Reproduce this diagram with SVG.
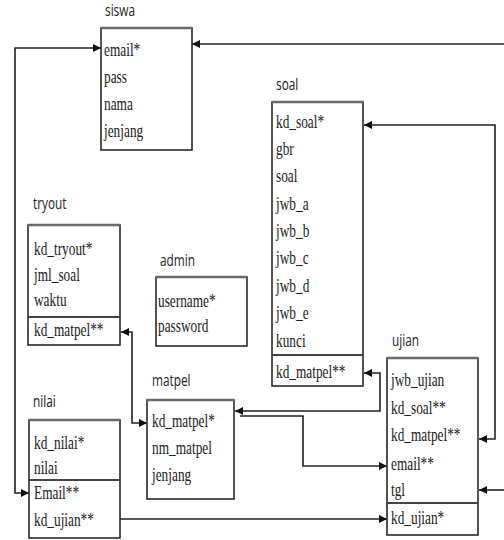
<svg xmlns="http://www.w3.org/2000/svg" width="504" height="540" viewBox="0 0 504 540">
<defs>
<style>
.box{fill:#fff;stroke:#2a2a2a;stroke-width:1.6}
.hdr{stroke:#6a6a6a;stroke-width:2.5}
.div{stroke:#444;stroke-width:2}
.t{font-family:"Liberation Serif",serif;font-size:18px;fill:#1a1a1a}
.h{font-family:"Open Sans","DejaVu Sans",sans-serif;font-size:16px;fill:#222}
.c{fill:none;stroke:#222;stroke-width:1.6}
</style>
<marker id="a" viewBox="0 0 10 10" refX="10" refY="5" markerWidth="9" markerHeight="8" markerUnits="userSpaceOnUse" orient="auto-start-reverse">
<path d="M0,0 L10,5 L0,10 z" fill="#111"/>
</marker>
</defs>
<rect width="504" height="540" fill="#fff"/>

<g id="connectors">
<path class="c" d="M101 48 H15 V493 H29" marker-start="url(#a)" marker-end="url(#a)"/>
<path class="c" d="M504 44 H192" marker-end="url(#a)"/>
<path class="c" d="M364 125 H495 V439 H479" marker-start="url(#a)" marker-end="url(#a)"/>
<path class="c" d="M504 490 H479" marker-end="url(#a)"/>
<path class="c" d="M121 332 H132 V423 H147" marker-start="url(#a)" marker-end="url(#a)"/>
<path class="c" d="M364 373 H380 V411 H235" marker-start="url(#a)" marker-end="url(#a)"/>
<path class="c" d="M240 416 H303 V466 H387" marker-end="url(#a)"/>
<path class="c" d="M120 519 H387" marker-end="url(#a)"/>
</g>

<g id="siswa">
<text class="h" transform="translate(105,16) scale(0.74,1)">siswa</text>
<rect class="box" x="101" y="28" width="91" height="122"/>
<line class="hdr" x1="101" y1="28" x2="192" y2="28"/>
<text class="t" transform="translate(104,56) scale(0.74,1)">email*</text>
<text class="t" transform="translate(104,83) scale(0.74,1)">pass</text>
<text class="t" transform="translate(104,110) scale(0.74,1)">nama</text>
<text class="t" transform="translate(104,137) scale(0.74,1)">jenjang</text>
</g>

<g id="soal">
<text class="h" transform="translate(276,90) scale(0.74,1)">soal</text>
<rect class="box" x="272" y="102" width="91" height="284"/>
<line class="hdr" x1="272" y1="102" x2="363" y2="102"/>
<line class="div" x1="272" y1="355" x2="363" y2="355"/>
<text class="t" transform="translate(276,128) scale(0.74,1)">kd_soal*</text>
<text class="t" transform="translate(276,155) scale(0.74,1)">gbr</text>
<text class="t" transform="translate(276,182) scale(0.74,1)">soal</text>
<text class="t" transform="translate(276,210) scale(0.74,1)">jwb_a</text>
<text class="t" transform="translate(276,237) scale(0.74,1)">jwb_b</text>
<text class="t" transform="translate(276,264) scale(0.74,1)">jwb_c</text>
<text class="t" transform="translate(276,292) scale(0.74,1)">jwb_d</text>
<text class="t" transform="translate(276,319) scale(0.74,1)">jwb_e</text>
<text class="t" transform="translate(276,347) scale(0.74,1)">kunci</text>
<text class="t" transform="translate(276,378) scale(0.74,1)">kd_matpel**</text>
</g>

<g id="tryout">
<text class="h" transform="translate(33,209) scale(0.74,1)">tryout</text>
<rect class="box" x="28" y="225" width="92" height="120"/>
<line class="hdr" x1="28" y1="225" x2="120" y2="225"/>
<line class="div" x1="28" y1="317" x2="120" y2="317"/>
<text class="t" transform="translate(34,255) scale(0.74,1)">kd_tryout*</text>
<text class="t" transform="translate(34,281) scale(0.74,1)">jml_soal</text>
<text class="t" transform="translate(34,306) scale(0.74,1)">waktu</text>
<text class="t" transform="translate(34,336) scale(0.74,1)">kd_matpel**</text>
</g>

<g id="admin">
<text class="h" transform="translate(160,266) scale(0.74,1)">admin</text>
<rect class="box" x="156" y="277" width="91" height="69"/>
<line class="hdr" x1="156" y1="277" x2="247" y2="277"/>
<text class="t" transform="translate(158,307) scale(0.74,1)">username*</text>
<text class="t" transform="translate(158,332) scale(0.74,1)">password</text>
</g>

<g id="matpel">
<text class="h" transform="translate(152,386) scale(0.74,1)">matpel</text>
<rect class="box" x="147" y="400" width="87" height="99"/>
<line class="hdr" x1="147" y1="400" x2="234" y2="400"/>
<text class="t" transform="translate(152,427) scale(0.74,1)">kd_matpel*</text>
<text class="t" transform="translate(152,454) scale(0.74,1)">nm_matpel</text>
<text class="t" transform="translate(152,481) scale(0.74,1)">jenjang</text>
</g>

<g id="nilai">
<text class="h" transform="translate(33,407) scale(0.74,1)">nilai</text>
<rect class="box" x="29" y="420" width="91" height="118"/>
<line class="hdr" x1="29" y1="420" x2="120" y2="420"/>
<line class="div" x1="29" y1="480" x2="120" y2="480"/>
<text class="t" transform="translate(34,449) scale(0.74,1)">kd_nilai*</text>
<text class="t" transform="translate(34,474) scale(0.74,1)">nilai</text>
<text class="t" transform="translate(34,499) scale(0.74,1)">Email**</text>
<text class="t" transform="translate(34,526) scale(0.74,1)">kd_ujian**</text>
</g>

<g id="ujian">
<text class="h" transform="translate(392,346) scale(0.74,1)">ujian</text>
<rect class="box" x="387" y="358" width="91" height="177"/>
<line class="hdr" x1="387" y1="358" x2="478" y2="358"/>
<line class="div" x1="387" y1="503" x2="478" y2="503"/>
<text class="t" transform="translate(391,386) scale(0.74,1)">jwb_ujian</text>
<text class="t" transform="translate(391,414) scale(0.74,1)">kd_soal**</text>
<text class="t" transform="translate(391,441) scale(0.74,1)">kd_matpel**</text>
<text class="t" transform="translate(391,470) scale(0.74,1)">email**</text>
<text class="t" transform="translate(391,496) scale(0.74,1)">tgl</text>
<text class="t" transform="translate(391,524) scale(0.74,1)">kd_ujian*</text>
</g>
</svg>
